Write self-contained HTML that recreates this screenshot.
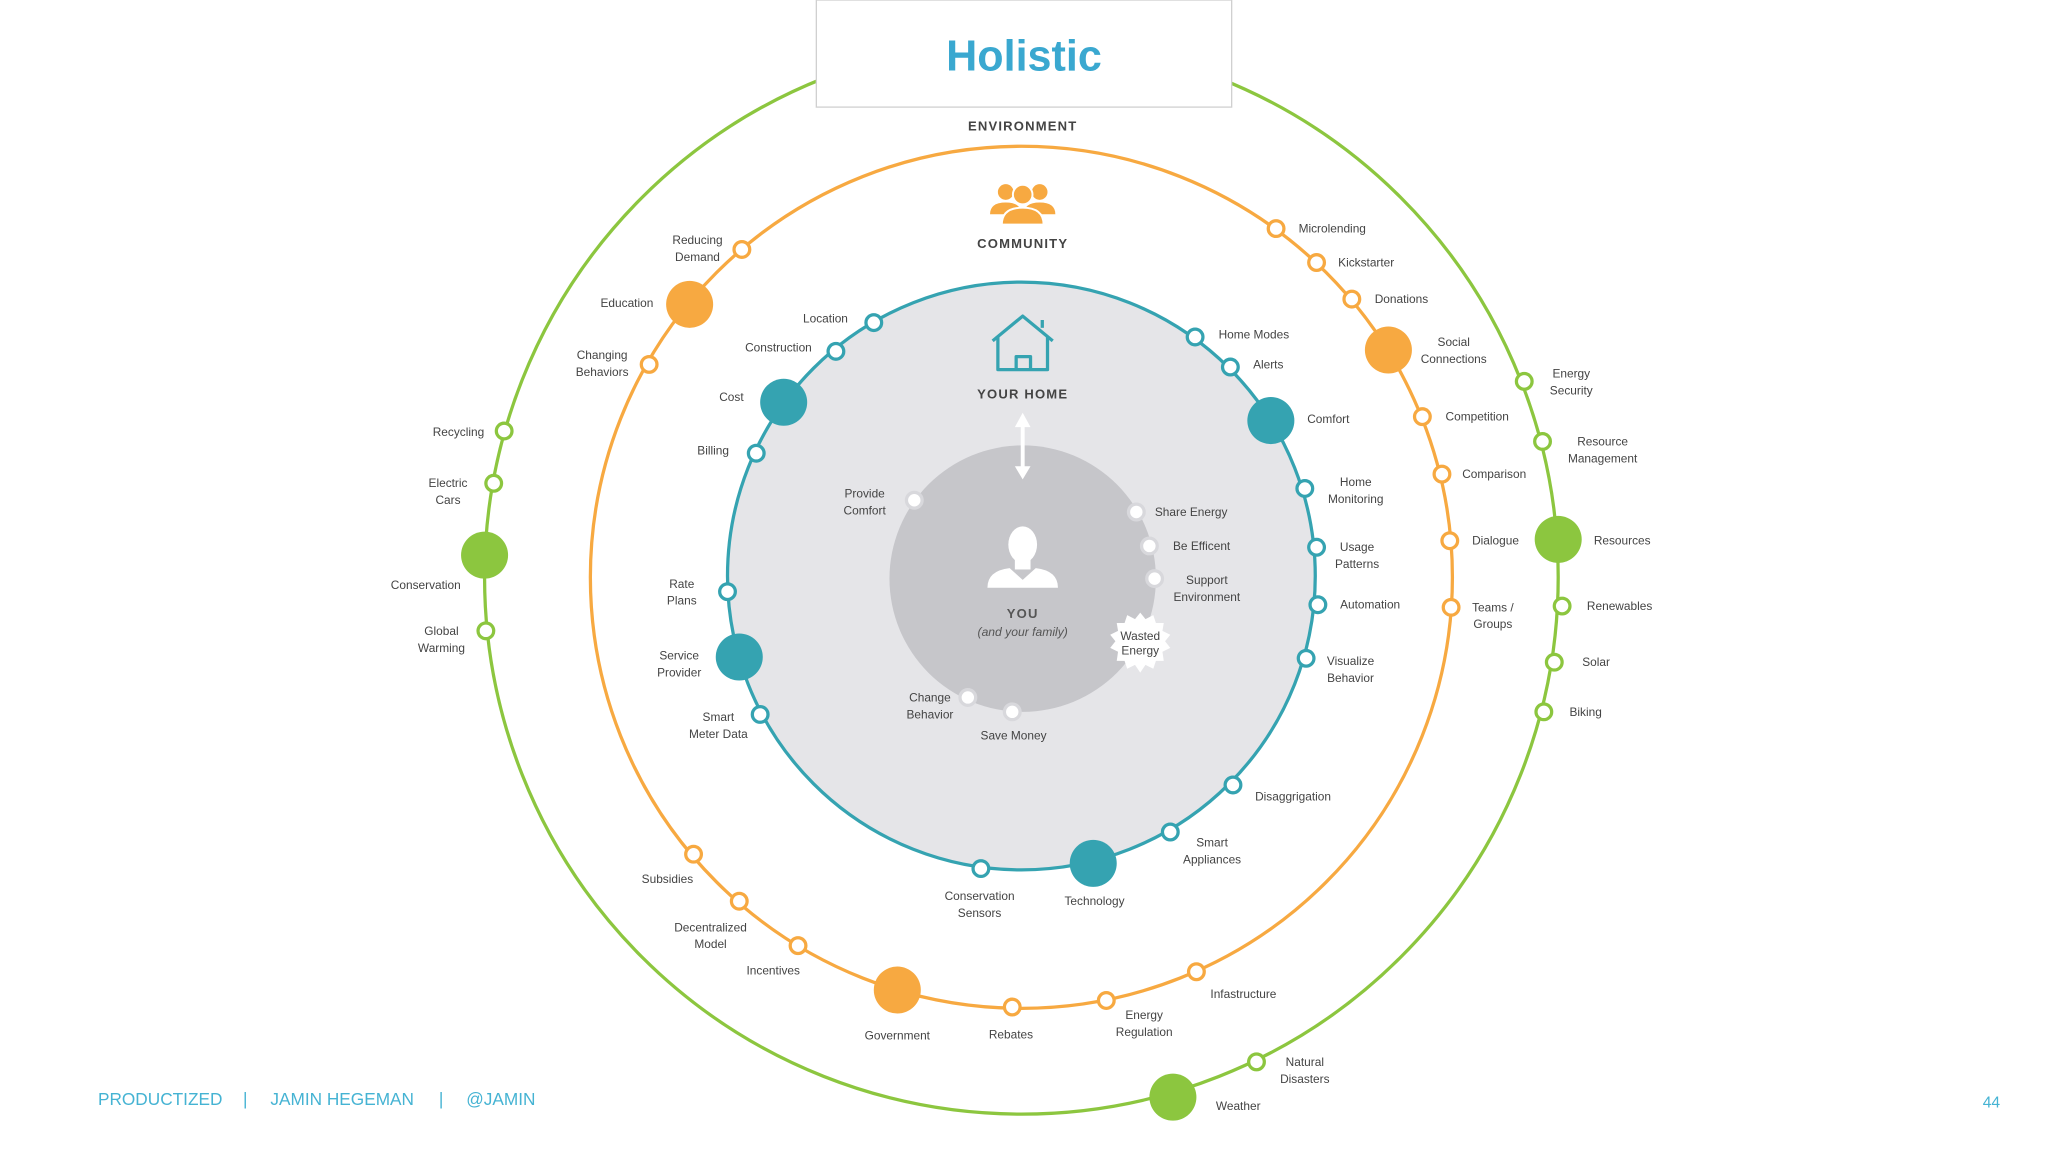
<!DOCTYPE html>
<html><head><meta charset="utf-8"><style>
html,body{margin:0;padding:0;background:#fff}
svg{display:block}
text{font-family:"Liberation Sans",sans-serif}
.l{font-size:9.1px;fill:#444;text-anchor:middle}
.g{fill:#fff;stroke:#8cc63f;stroke-width:2.5}
.o{fill:#fff;stroke:#f7a941;stroke-width:2.5}
.t{fill:#fff;stroke:#35a3b1;stroke-width:2.5}
.w{fill:#fff;stroke:#d8d8dc;stroke-width:2.5}
.h{font-size:10px;font-weight:bold;fill:#444;text-anchor:middle;letter-spacing:0.9px}
</style></head><body>
<svg width="2048" height="1152" viewBox="0 0 1568 882" xmlns="http://www.w3.org/2000/svg">
<rect width="1568" height="882" fill="#fff"/>
<circle cx="782" cy="442" r="411" fill="none" stroke="#8cc63f" stroke-width="2.5"/>
<circle cx="782" cy="442" r="330" fill="none" stroke="#f7a941" stroke-width="2.5"/>
<circle cx="782" cy="441" r="225" fill="#e5e5e8" stroke="#35a3b1" stroke-width="2.5"/>
<circle cx="783" cy="443" r="102" fill="#c6c6ca"/>
<rect x="625" y="0" width="318" height="82" fill="#fff" stroke="#d0d0d0" stroke-width="1"/>
<text x="784" y="54" text-anchor="middle" style="font-size:33px;font-weight:bold;fill:#3aa8d0">Holistic</text>
<text x="783" y="100" class="h">ENVIRONMENT</text>
<g fill="#f7a941">
<circle cx="770" cy="147" r="6"/><circle cx="796" cy="147" r="6"/>
<path d="M758 164 q0-9 12-9 q12 0 12 9z"/><path d="M784 164 q0-9 12-9 q12 0 12 9z"/>
<circle cx="783" cy="149" r="7.5" stroke="#fff" stroke-width="1.5"/>
<path d="M767 172 q0-13 16-13 q16 0 16 13z" stroke="#fff" stroke-width="1.5"/>
</g>
<text x="783" y="190" class="h">COMMUNITY</text>
<g fill="none" stroke="#35a3b1" stroke-width="2.5" stroke-linejoin="round">
<path d="M760 261 L783 242 L806 261"/><path d="M764 258 V283 H802 V258"/><path d="M778 283 V273 H789 V283"/><path d="M798 251 V245"/>
</g>
<text x="783" y="305" class="h">YOUR HOME</text>
<g fill="#fff"><rect x="781.5" y="323" width="3" height="38"/><path d="M777 327 L783 316 L789 327z"/><path d="M777 357 L783 367 L789 357z"/></g>
<g fill="#fff"><ellipse cx="783" cy="417" rx="11" ry="14"/><rect x="777" y="426" width="12" height="10"/><path d="M756 450 q0-13 17-15 l10 9 l10-9 q17 2 17 15z"/></g>
<text x="783" y="473" class="h" style="fill:#555">YOU</text>
<text x="783" y="487" class="l" style="font-style:italic;fill:#555;font-size:9.3px">(and your family)</text>
<polygon fill="#fff" points="873,469 877,474 883,471 885,477 891,477 890,483 896,486 892,491 896,496 890,499 891,506 885,506 883,512 877,509 873,515 869,509 863,512 861,506 855,506 856,499 850,496 854,491 850,486 856,483 855,477 861,477 863,471 869,474"/>
<text x="873" y="490" class="l">Wasted</text><text x="873" y="501" class="l">Energy</text>
<circle cx="386" cy="330" r="6" class="g"/><text x="351" y="334" class="l">Recycling</text>
<circle cx="378" cy="370" r="6" class="g"/><text x="343" y="373" class="l">Electric</text><text x="343" y="386" class="l">Cars</text>
<circle cx="371" cy="425" r="18" fill="#8cc63f"/><text x="326" y="451" class="l">Conservation</text>
<circle cx="372" cy="483" r="6" class="g"/><text x="338" y="486" class="l">Global</text><text x="338" y="499" class="l">Warming</text>
<circle cx="1167" cy="292" r="6" class="g"/><text x="1203" y="289" class="l">Energy</text><text x="1203" y="302" class="l">Security</text>
<circle cx="1181" cy="338" r="6" class="g"/><text x="1227" y="341" class="l">Resource</text><text x="1227" y="354" class="l">Management</text>
<circle cx="1193" cy="413" r="18" fill="#8cc63f"/><text x="1242" y="417" class="l">Resources</text>
<circle cx="1196" cy="464" r="6" class="g"/><text x="1240" y="467" class="l">Renewables</text>
<circle cx="1190" cy="507" r="6" class="g"/><text x="1222" y="510" class="l">Solar</text>
<circle cx="1182" cy="545" r="6" class="g"/><text x="1214" y="548" class="l">Biking</text>
<circle cx="962" cy="813" r="6" class="g"/><text x="999" y="816" class="l">Natural</text><text x="999" y="829" class="l">Disasters</text>
<circle cx="898" cy="840" r="18" fill="#8cc63f"/><text x="948" y="850" class="l">Weather</text>
<circle cx="568" cy="191" r="6" class="o"/><text x="534" y="187" class="l">Reducing</text><text x="534" y="200" class="l">Demand</text>
<circle cx="528" cy="233" r="18" fill="#f7a941"/><text x="480" y="235" class="l">Education</text>
<circle cx="497" cy="279" r="6" class="o"/><text x="461" y="275" class="l">Changing</text><text x="461" y="288" class="l">Behaviors</text>
<circle cx="977" cy="175" r="6" class="o"/><text x="1020" y="178" class="l">Microlending</text>
<circle cx="1008" cy="201" r="6" class="o"/><text x="1046" y="204" class="l">Kickstarter</text>
<circle cx="1035" cy="229" r="6" class="o"/><text x="1073" y="232" class="l">Donations</text>
<circle cx="1063" cy="268" r="18" fill="#f7a941"/><text x="1113" y="265" class="l">Social</text><text x="1113" y="278" class="l">Connections</text>
<circle cx="1089" cy="319" r="6" class="o"/><text x="1131" y="322" class="l">Competition</text>
<circle cx="1104" cy="363" r="6" class="o"/><text x="1144" y="366" class="l">Comparison</text>
<circle cx="1110" cy="414" r="6" class="o"/><text x="1145" y="417" class="l">Dialogue</text>
<circle cx="1111" cy="465" r="6" class="o"/><text x="1143" y="468" class="l">Teams /</text><text x="1143" y="481" class="l">Groups</text>
<circle cx="916" cy="744" r="6" class="o"/><text x="952" y="764" class="l">Infastructure</text>
<circle cx="847" cy="766" r="6" class="o"/><text x="876" y="780" class="l">Energy</text><text x="876" y="793" class="l">Regulation</text>
<circle cx="775" cy="771" r="6" class="o"/><text x="774" y="795" class="l">Rebates</text>
<circle cx="687" cy="758" r="18" fill="#f7a941"/><text x="687" y="796" class="l">Government</text>
<circle cx="611" cy="724" r="6" class="o"/><text x="592" y="746" class="l">Incentives</text>
<circle cx="566" cy="690" r="6" class="o"/><text x="544" y="713" class="l">Decentralized</text><text x="544" y="726" class="l">Model</text>
<circle cx="531" cy="654" r="6" class="o"/><text x="511" y="676" class="l">Subsidies</text>
<circle cx="669" cy="247" r="6" class="t"/><text x="632" y="247" class="l">Location</text>
<circle cx="640" cy="269" r="6" class="t"/><text x="596" y="269" class="l">Construction</text>
<circle cx="600" cy="308" r="18" fill="#35a3b1"/><text x="560" y="307" class="l">Cost</text>
<circle cx="579" cy="347" r="6" class="t"/><text x="546" y="348" class="l">Billing</text>
<circle cx="557" cy="453" r="6" class="t"/><text x="522" y="450" class="l">Rate</text><text x="522" y="463" class="l">Plans</text>
<circle cx="566" cy="503" r="18" fill="#35a3b1"/><text x="520" y="505" class="l">Service</text><text x="520" y="518" class="l">Provider</text>
<circle cx="582" cy="547" r="6" class="t"/><text x="550" y="552" class="l">Smart</text><text x="550" y="565" class="l">Meter Data</text>
<circle cx="751" cy="665" r="6" class="t"/><text x="750" y="689" class="l">Conservation</text><text x="750" y="702" class="l">Sensors</text>
<circle cx="837" cy="661" r="18" fill="#35a3b1"/><text x="838" y="693" class="l">Technology</text>
<circle cx="896" cy="637" r="6" class="t"/><text x="928" y="648" class="l">Smart</text><text x="928" y="661" class="l">Appliances</text>
<circle cx="944" cy="601" r="6" class="t"/><text x="990" y="613" class="l">Disaggrigation</text>
<circle cx="1000" cy="504" r="6" class="t"/><text x="1034" y="509" class="l">Visualize</text><text x="1034" y="522" class="l">Behavior</text>
<circle cx="1009" cy="463" r="6" class="t"/><text x="1049" y="466" class="l">Automation</text>
<circle cx="1008" cy="419" r="6" class="t"/><text x="1039" y="422" class="l">Usage</text><text x="1039" y="435" class="l">Patterns</text>
<circle cx="999" cy="374" r="6" class="t"/><text x="1038" y="372" class="l">Home</text><text x="1038" y="385" class="l">Monitoring</text>
<circle cx="973" cy="322" r="18" fill="#35a3b1"/><text x="1017" y="324" class="l">Comfort</text>
<circle cx="942" cy="281" r="6" class="t"/><text x="971" y="282" class="l">Alerts</text>
<circle cx="915" cy="258" r="6" class="t"/><text x="960" y="259" class="l">Home Modes</text>
<circle cx="700" cy="383" r="6" class="w"/><text x="662" y="381" class="l">Provide</text><text x="662" y="394" class="l">Comfort</text>
<circle cx="870" cy="392" r="6" class="w"/><text x="912" y="395" class="l">Share Energy</text>
<circle cx="880" cy="418" r="6" class="w"/><text x="920" y="421" class="l">Be Efficent</text>
<circle cx="884" cy="443" r="6" class="w"/><text x="924" y="447" class="l">Support</text><text x="924" y="460" class="l">Environment</text>
<circle cx="741" cy="534" r="6" class="w"/><text x="712" y="537" class="l">Change</text><text x="712" y="550" class="l">Behavior</text>
<circle cx="775" cy="545" r="6" class="w"/><text x="776" y="566" class="l">Save Money</text>
<g style="font-size:13.2px;fill:#45b3d3">
<text x="75" y="846">PRODUCTIZED</text><text x="186" y="846">|</text><text x="207" y="846">JAMIN HEGEMAN</text><text x="336" y="846">|</text><text x="357" y="846">@JAMIN</text>
<text x="1518" y="848" style="font-size:12px">44</text>
</g>
</svg>
</body></html>
